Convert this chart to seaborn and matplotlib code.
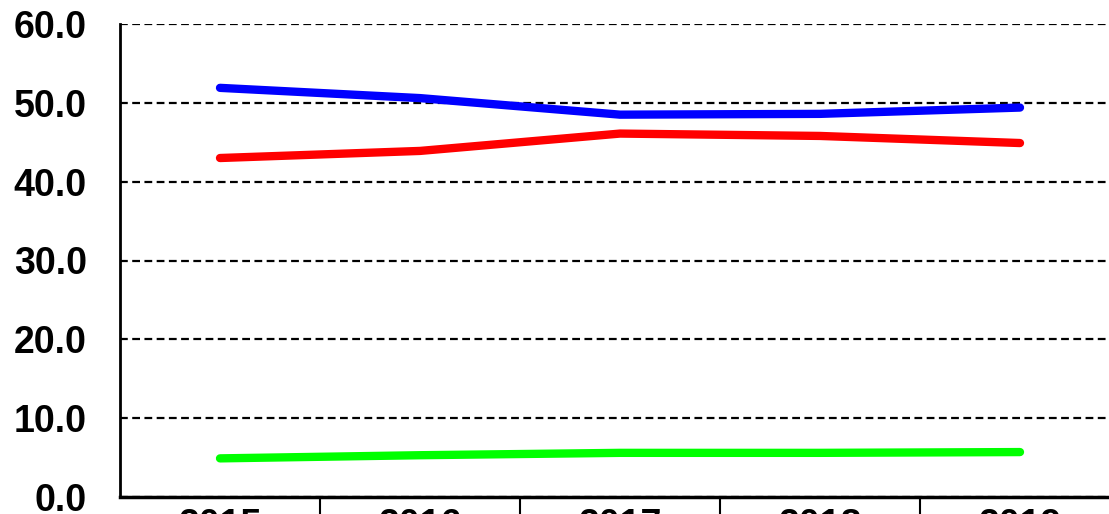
import pandas as pd
import numpy as np
import matplotlib
matplotlib.use("Agg")
import matplotlib.pyplot as plt
import seaborn as sns

# Data
years = ["2015", "2016", "2017", "2018", "2019"]
blue_vals = [51.9, 50.6, 48.5, 48.6, 49.4]
red_vals = [43.0, 43.9, 46.1, 45.8, 44.9]
green_vals = [4.9, 5.3, 5.6, 5.6, 5.7]
y_ticks = [0, 10, 20, 30, 40, 50, 60]

sns.set_theme(style="white")
plt.rcParams['font.family'] = ['Liberation Sans', 'DejaVu Sans']

df = pd.DataFrame({
    "year": years * 3,
    "x": list(range(len(years))) * 3,
    "value": blue_vals + red_vals + green_vals,
    "series": ["blue"] * 5 + ["red"] * 5 + ["green"] * 5,
})
palette = {"blue": "#0000ff", "red": "#ff0000", "green": "#00ff00"}

fig = plt.figure(figsize=(11.09, 5.14), dpi=100)
ax = fig.add_axes([120 / 1109, 17 / 514, 1000 / 1109, 473 / 514])

sns.lineplot(data=df, x="x", y="value", hue="series", palette=palette,
             linewidth=6.0, legend=False, ax=ax, solid_capstyle="round")

ax.set_xlim(-0.5, len(years) - 0.5)
ax.set_ylim(0, 60)
ax.set_yticks(y_ticks)
ax.set_yticklabels([f"{v:.1f}" for v in y_ticks], fontsize=27,
                   fontweight="bold", color="black")
ax.set_xticks(range(len(years)))
ax.set_xticklabels(years, fontsize=27, fontweight="bold", color="black")
ax.set_xticks(np.arange(0.5, len(years) - 0.5, 1), minor=True)
ax.tick_params(axis="x", which="major", bottom=True, length=0, pad=8)
ax.tick_params(axis="x", which="minor", bottom=True, length=30, width=1.5,
               color="black", direction="out")
ax.tick_params(axis="y", length=0, pad=24)
ax.set_xlabel("")
ax.set_ylabel("")

ax.yaxis.grid(True, linestyle=(0, (3.5, 2)), color="black", linewidth=1.6)
ax.set_axisbelow(True)
for s in ["top", "right"]:
    ax.spines[s].set_visible(False)
ax.spines["left"].set_color("black")
ax.spines["left"].set_linewidth(2)
ax.spines["bottom"].set_color("black")
ax.spines["bottom"].set_linewidth(2.5)
ax.spines["bottom"].set_zorder(5)

fig.savefig("out.png", dpi=100)
